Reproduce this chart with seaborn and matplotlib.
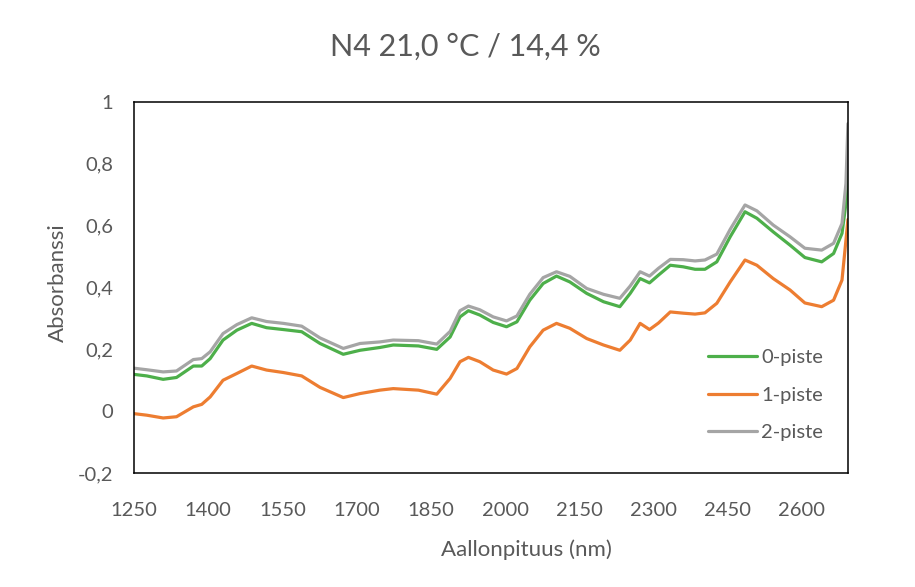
import matplotlib

matplotlib.use("Agg")

import matplotlib.pyplot as plt
import pandas as pd
import seaborn as sns


OUT_PATH = "out.png"

WAVELENGTHS = [
    1250, 1276, 1309, 1336, 1370, 1387, 1404, 1430, 1458, 1488,
    1518, 1552, 1589, 1626, 1673, 1707, 1747, 1774, 1825, 1862,
    1889, 1909, 1926, 1949, 1976, 2003, 2024, 2050, 2077, 2104,
    2131, 2165, 2199, 2232, 2253, 2273, 2292, 2310, 2334, 2360,
    2384, 2404, 2428, 2455, 2485, 2509, 2542, 2576, 2606, 2640,
    2664, 2681, 2689, 2693,
]

PISTE_0 = [
    0.119, 0.114, 0.103, 0.109, 0.146, 0.146, 0.170, 0.230, 0.262, 0.284,
    0.270, 0.264, 0.257, 0.219, 0.184, 0.197, 0.206, 0.214, 0.211, 0.200,
    0.240, 0.305, 0.325, 0.311, 0.287, 0.273, 0.289, 0.359, 0.413, 0.437,
    0.418, 0.381, 0.354, 0.338, 0.381, 0.429, 0.415, 0.440, 0.472, 0.467,
    0.459, 0.459, 0.483, 0.564, 0.645, 0.624, 0.580, 0.537, 0.497, 0.483,
    0.510, 0.575, 0.672, 0.800,
]

PISTE_1 = [
    -0.008, -0.013, -0.022, -0.018, 0.014, 0.022, 0.046, 0.100, 0.122, 0.146,
    0.133, 0.125, 0.114, 0.077, 0.044, 0.057, 0.068, 0.073, 0.068, 0.055,
    0.106, 0.160, 0.174, 0.160, 0.133, 0.120, 0.138, 0.208, 0.262, 0.284,
    0.268, 0.235, 0.214, 0.197, 0.230, 0.284, 0.264, 0.285, 0.321, 0.317,
    0.314, 0.318, 0.349, 0.418, 0.489, 0.472, 0.429, 0.392, 0.350, 0.338,
    0.359, 0.424, 0.553, 0.620,
]

PISTE_2 = [
    0.139, 0.134, 0.127, 0.130, 0.167, 0.170, 0.192, 0.251, 0.280, 0.302,
    0.290, 0.284, 0.275, 0.237, 0.203, 0.219, 0.224, 0.230, 0.228, 0.217,
    0.258, 0.325, 0.340, 0.328, 0.305, 0.292, 0.308, 0.378, 0.432, 0.451,
    0.436, 0.397, 0.378, 0.365, 0.405, 0.451, 0.437, 0.462, 0.491, 0.490,
    0.486, 0.489, 0.508, 0.588, 0.667, 0.648, 0.602, 0.564, 0.527, 0.521,
    0.543, 0.607, 0.737, 0.930,
]

SERIES_NAMES = ["0-piste", "1-piste", "2-piste"]
SERIES_COLORS = ["#4DAF4A", "#ED7D31", "#A5A5A5"]

X_TICKS = [1250, 1400, 1550, 1700, 1850, 2000, 2150, 2300, 2450, 2600]
Y_TICKS = [-0.2, 0, 0.2, 0.4, 0.6, 0.8, 1.0]
Y_TICK_LABELS = ["-0,2", "0", "0,2", "0,4", "0,6", "0,8", "1"]

TITLE = "N4 21,0 °C / 14,4 %"
X_LABEL = "Aallonpituus (nm)"
Y_LABEL = "Absorbanssi"

TEXT_COLOR = "#595959"


def build_frame() -> pd.DataFrame:
    parts = []
    for name, values in zip(SERIES_NAMES, [PISTE_0, PISTE_1, PISTE_2]):
        parts.append(pd.DataFrame({"nm": WAVELENGTHS, "abs": values, "sarja": name}))
    return pd.concat(parts, ignore_index=True)


def main() -> None:
    sns.set_theme(style="white")
    plt.rcParams["font.family"] = ["Lato", "DejaVu Sans"]

    df = build_frame()

    fig = plt.figure(figsize=(9.15, 5.87), dpi=100)
    ax = fig.add_axes([0.1464, 0.1942, 0.7803, 0.6320])

    sns.lineplot(
        data=df,
        x="nm",
        y="abs",
        hue="sarja",
        hue_order=SERIES_NAMES,
        palette=SERIES_COLORS,
        linewidth=2.3,
        ax=ax,
    )

    ax.set_xlim(1250, 2693)
    ax.set_ylim(-0.2, 1.0)
    ax.set_xticks(X_TICKS)
    ax.set_xticklabels([str(t) for t in X_TICKS])
    ax.set_yticks(Y_TICKS)
    ax.set_yticklabels(Y_TICK_LABELS)

    for spine in ax.spines.values():
        spine.set_visible(True)
        spine.set_color("black")
        spine.set_linewidth(1.1)

    ax.tick_params(axis="both", direction="in", length=5, width=1, color="black",
                   labelsize=14.5, labelcolor=TEXT_COLOR)
    ax.tick_params(axis="x", pad=21)
    ax.tick_params(axis="y", pad=15)

    ax.set_xlabel(X_LABEL, fontsize=16, color=TEXT_COLOR)
    ax.set_ylabel(Y_LABEL, fontsize=16, color=TEXT_COLOR)
    ax.xaxis.set_label_coords(0.55, -0.18)
    ax.yaxis.set_label_coords(-0.092, 0.512)

    fig.text(0.509, 0.9046, TITLE, ha="center", va="baseline", fontsize=22, color=TEXT_COLOR)

    ax.legend(
        loc="center left",
        bbox_to_anchor=(0.804, 0.21),
        frameon=False,
        fontsize=14.5,
        labelcolor=TEXT_COLOR,
        handlelength=2.45,
        handletextpad=0.2,
        labelspacing=1.0,
        borderpad=0,
        borderaxespad=0,
    )

    fig.savefig(OUT_PATH, dpi=100, facecolor="white")
    plt.close(fig)


if __name__ == "__main__":
    main()
